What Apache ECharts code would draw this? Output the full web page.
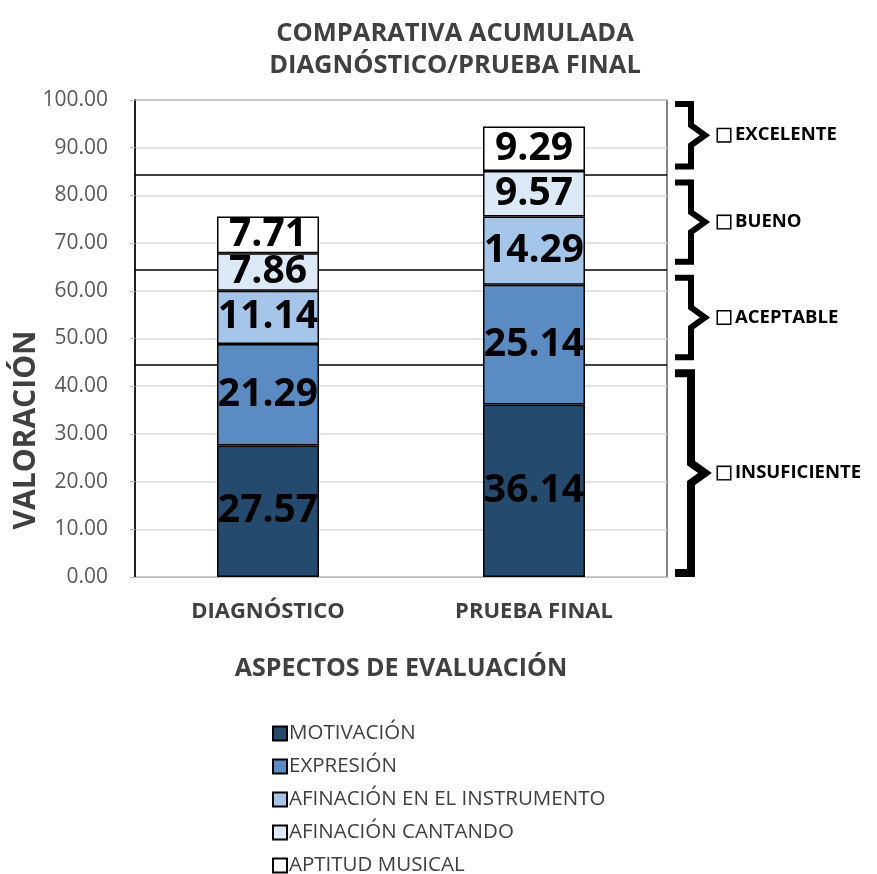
<!DOCTYPE html>
<html>
<head>
<meta charset="utf-8">
<script src="https://cdn.jsdelivr.net/npm/echarts@6/dist/echarts.min.js"></script>
<style>html,body{margin:0;padding:0;background:#fff;}#c{width:877px;height:874px;}</style>
</head>
<body>
<div id="c"></div>
<script>
var categories = ['DIAGNÓSTICO', 'PRUEBA FINAL'];
var seriesNames = ['MOTIVACIÓN', 'EXPRESIÓN', 'AFINACIÓN EN EL INSTRUMENTO', 'AFINACIÓN CANTANDO', 'APTITUD MUSICAL'];
var motivacion = [27.57, 36.14];
var expresion = [21.29, 25.14];
var afinacionInstrumento = [11.14, 14.29];
var afinacionCantando = [7.86, 9.57];
var aptitudMusical = [7.71, 9.29];
var seriesColors = ['#244A6E', '#5A8BC2', '#A5C6E9', '#DCE9F7', '#FFFFFF'];
var yTicks = [0, 10, 20, 30, 40, 50, 60, 70, 80, 90, 100];
var thresholds = [44.4, 64.4, 84.4];
var levelNames = ['INSUFICIENTE', 'ACEPTABLE', 'BUENO', 'EXCELENTE'];
var levelRanges = [[0, 44.4], [44.4, 64.4], [64.4, 84.4], [84.4, 100]];

var FONT = '"Open Sans", "Noto Sans", sans-serif';
var allValues = [motivacion, expresion, afinacionInstrumento, afinacionCantando, aptitudMusical];

var chart = echarts.init(document.getElementById('c'));
var series = seriesNames.map(function (name, i) {
  var s = {
    name: name,
    type: 'bar',
    stack: 'total',
    barWidth: 102,
    z: 3,
    data: allValues[i],
    itemStyle: { color: seriesColors[i], borderColor: '#000', borderWidth: 1.5 },
    label: {
      show: true, position: 'inside', color: '#000', fontFamily: FONT,
      fontWeight: 'bold', fontSize: 39,
      formatter: function (p) { return p.value.toFixed(2); }
    }
  };
  if (i === 0) {
    s.markLine = {
      silent: true, symbol: 'none', z: 1,
      label: { show: false },
      lineStyle: { color: '#000', width: 1.5, type: 'solid' },
      data: thresholds.map(function (t) { return { yAxis: t }; })
    };
  }
  return s;
});

chart.setOption({
  animation: false,
  backgroundColor: '#fff',
  title: {
    text: 'COMPARATIVA ACUMULADA\nDIAGNÓSTICO/PRUEBA FINAL',
    left: 450, textAlign: 'center', top: 13,
    textStyle: { fontFamily: FONT, fontWeight: 'bold', fontSize: 25.5, lineHeight: 32, color: '#404040' }
  },
  grid: { left: 135, right: 210, top: 100, bottom: 297, outerBoundsMode: 'none', show: true, borderColor: '#333', borderWidth: 1.2, backgroundColor: 'transparent' },
  legend: {
    orient: 'vertical', left: 267, top: 718, height: 160,
    itemWidth: 14, itemHeight: 14, itemGap: 12,
    icon: 'rect',
    textStyle: { fontFamily: FONT, fontSize: 20.5, color: '#404040', lineHeight: 21, padding: [0, 0, 0, -3] },
    data: seriesNames
  },
  xAxis: {
    type: 'category', data: categories,
    name: 'ASPECTOS DE EVALUACIÓN', nameLocation: 'middle', nameGap: 79,
    nameTextStyle: { fontFamily: FONT, fontWeight: 'bold', fontSize: 25, color: '#404040' },
    axisLine: { lineStyle: { color: '#bfbfbf', width: 1.2 } },
    axisTick: { show: false },
    axisLabel: { fontFamily: FONT, fontWeight: 'bold', fontSize: 22, color: '#404040', margin: 24 }
  },
  yAxis: {
    type: 'value', min: 0, max: 100, interval: 10,
    axisLine: { show: true, lineStyle: { color: '#000', width: 1.5 } },
    axisTick: { show: true, length: 5, lineStyle: { color: '#bfbfbf' } },
    splitLine: { lineStyle: { color: '#d9d9d9', width: 1.5 } },
    axisLabel: {
      fontFamily: FONT, fontSize: 21, color: '#595959', margin: 27,
      formatter: function (v) { return yTicks.indexOf(v) >= 0 ? v.toFixed(2) : ''; }
    }
  },
  series: series
});

function drawExtras() {
  var elements = [];
  levelRanges.forEach(function (r, i) {
    var yTop = chart.convertToPixel({ yAxisIndex: 0 }, r[1]) + (i === 3 ? 1 : 5);
    var yBot = chart.convertToPixel({ yAxisIndex: 0 }, r[0]) - (i === 0 ? 1 : 5);
    var mid = (yTop + yBot) / 2;
    var x0 = 675, x1 = 691, x2 = 705;
    elements.push({
      type: 'polyline', silent: true,
      shape: { points: [[x0, yTop + 3], [x1, yTop + 3], [x1, mid - 10], [x2, mid], [x1, mid + 10], [x1, yBot - 3], [x0, yBot - 3]] },
      style: { stroke: '#000', lineWidth: i === 0 ? 8 : 6, fill: null, lineJoin: 'miter' }
    });
    elements.push({
      type: 'text', silent: true, x: 718, y: mid,
      style: {
        text: '{b|}{t|' + levelNames[i] + '}',
        verticalAlign: 'middle',
        rich: {
          b: { width: 12, height: 12, borderColor: '#000', borderWidth: 1.5, backgroundColor: '#fff' },
          t: { fontFamily: FONT, fontWeight: 'bold', fontSize: 18.5, color: '#404040', padding: [0, 0, 0, 5] }
        }
      }
    });
  });
  elements.push({
    type: 'text', silent: true, x: 26, y: 430, rotation: Math.PI / 2,
    style: {
      text: 'VALORACIÓN', align: 'center', verticalAlign: 'middle',
      fontFamily: FONT, fontWeight: 'bold', fontSize: 30, fill: '#404040'
    }
  });
  chart.setOption({ graphic: elements });
}
drawExtras();
</script>
</body>
</html>
